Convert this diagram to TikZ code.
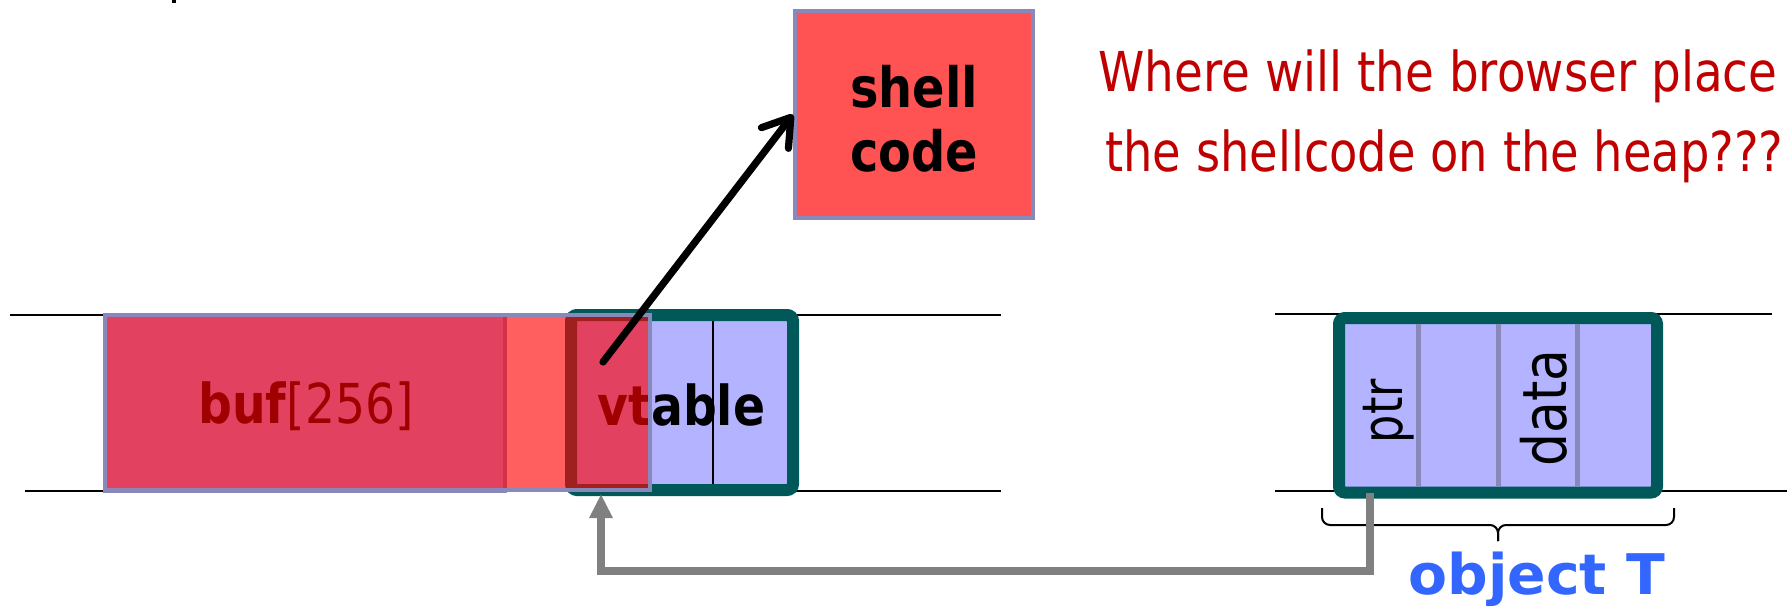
\documentclass[tikz,border=0pt]{standalone}
\usepackage{fontspec}
\setmainfont{DejaVu Sans}
\newfontfamily\narrowsans{DejaVu Sans}[FakeStretch=0.86]
\usetikzlibrary{arrows.meta}
\newlength\px \setlength\px{0.5pt}
% fit a text to a given width in px, keeping its natural height
\newcommand\fitw[2]{\resizebox{#1\px}{\height}{#2}}
\definecolor{cellfill}{RGB}{179,179,255}
\definecolor{cellline}{RGB}{136,136,187}
\definecolor{objline}{RGB}{0,88,88}
\definecolor{codefill}{RGB}{255,82,82}
\definecolor{linkgray}{RGB}{128,128,128}
\definecolor{askred}{RGB}{192,0,0}
\definecolor{tagblue}{RGB}{51,102,255}
\begin{document}
\begin{tikzpicture}[x=0.5pt,y=-0.5pt,
  memline/.style={line width=1pt},
  cellbox/.style={rectangle, draw=cellline, line width=2pt, fill=cellfill, inner sep=0pt},
  objbox/.style={rectangle, draw=objline, line width=6pt, fill=cellfill, rounded corners=3pt, inner sep=0pt},
  spillbox/.style={rectangle, draw=cellline, line width=2pt, fill=red, fill opacity=0.627, inner sep=0pt},
  divider/.style={draw=cellline, line width=2.5pt},
  thindivider/.style={draw=black, line width=1pt},
  pointer/.style={line width=3.6pt, line cap=round, -{Straight Barb[length=13pt,width=17pt,round]}},
  link/.style={draw=linkgray, line width=3.8pt, -{Triangle[length=12pt,width=11pt]}},
  bracepart/.style={line width=1pt, rounded corners=4pt},
  cellfont/.style={font=\narrowsans\fontsize{27.5pt}{33pt}\selectfont},
  boldcellfont/.style={font=\narrowsans\bfseries\fontsize{27.5pt}{33pt}\selectfont},
]
\useasboundingbox (0,0) rectangle (1790,607);

% memory rows
\draw[memline] (10,315) -- (1001,315);
\draw[memline] (25,491) -- (1001,491);
\draw[memline] (1275,314) -- (1772,314);
\draw[memline] (1275,491) -- (1787,491);

% stack buffer
\node[cellbox, minimum width=200pt, minimum height=88pt] (buf) at (305.25,403) {};
\node[cellfont, anchor=base, inner sep=0pt] (buflabel) at (306,423) {\textbf{buf}[256]};

% object holding the vtable pointer
\node[objbox, minimum width=111pt, minimum height=87.5pt] (vobj) at (682,402.5) {};
\draw[thindivider] (713,321) -- (713,484);
\node[boldcellfont, anchor=base, inner sep=0pt] (vtable) at (681.5,425) {vtable};

% overflowing data covering the buffer and the vtable slot
\node[spillbox, minimum width=272.5pt, minimum height=87.5pt] (spill) at (377.5,402.5) {};

% shellcode block
\node[cellbox, fill=codefill, minimum width=119pt, minimum height=103.5pt] (shell) at (914,114.5) {};
\node[align=center, inner sep=0pt, font=\narrowsans\bfseries\fontsize{27.8pt}{32pt}\selectfont] (shelltext) at (914,119) {shell\\code};

\coordinate (hook) at (603,362);
\draw[pointer] (hook) -- (shell.west);

% question
\node[anchor=north west, align=left, inner sep=0pt, text=askred,
      font=\narrowsans\fontsize{27.5pt}{40pt}\selectfont] (ask) at (1098,49.3)
  {\fitw{679}{Where will the browser place}\\\hspace*{7\px}\fitw{678}{the shellcode on the heap???}};

% object T on the heap
\node[objbox, minimum width=159pt, minimum height=87.25pt] (tobj) at (1498,405.25) {};
\foreach \x in {1418.5,1498,1577.5}
  \draw[divider] (\x,324) -- (\x,486);
\node[rotate=90, anchor=base, inner sep=0pt, font=\narrowsans\fontsize{28pt}{32pt}\selectfont] (ptr) at (1402,411) {\fitw{64}{ptr}};
\node[rotate=90, anchor=base, inner sep=0pt, font=\narrowsans\fontsize{30.5pt}{35pt}\selectfont] (data) at (1566,408) {\fitw{117}{data}};

% brace under object T
\draw[bracepart] (1322,508) -- (1322,525) -- (1498,525) -- (1498,541);
\draw[bracepart] (1674,508) -- (1674,525) -- (1498,525) -- (1498,541);
\node[anchor=base, inner sep=0pt, text=tagblue, font=\bfseries\fontsize{28pt}{33pt}\selectfont] (tagT) at (1537,594) {\fitw{257}{object T}};

% ptr points back into the overwritten vtable slot
\coordinate (ptrfoot) at (1370,492.5);
\coordinate (spillfoot) at (601,494);
\draw[link] (ptrfoot) -- ++(0,78.5) -| (spillfoot);

% small mark at the top edge
\fill (172,0) rectangle (176,2.5);
\end{tikzpicture}
\end{document}
